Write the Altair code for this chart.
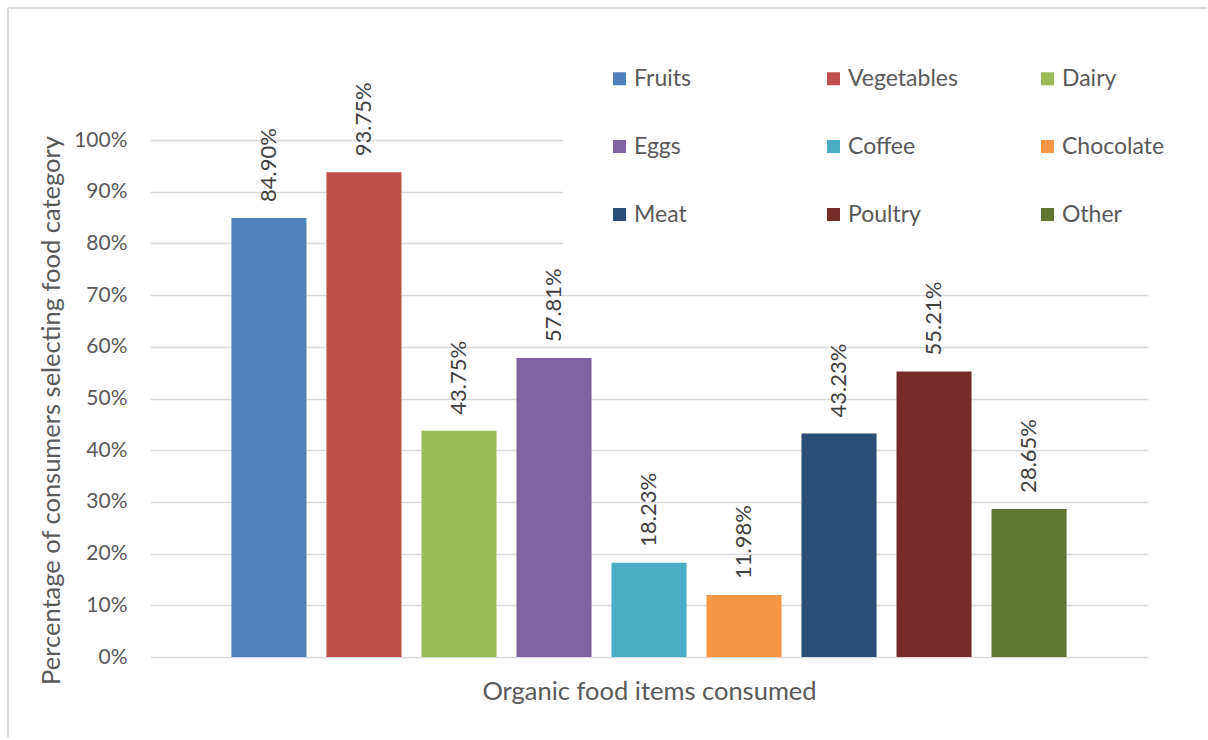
import altair as alt
import pandas as pd

categories = ["Fruits", "Vegetables", "Dairy", "Eggs", "Coffee", "Chocolate", "Meat", "Poultry", "Other"]
values = [84.90, 93.75, 43.75, 57.81, 18.23, 11.98, 43.23, 55.21, 28.65]
colors = ["#4F81BD", "#C0504D", "#9BBB59", "#8064A2", "#4BACC6", "#F79646", "#2C4D75", "#772C2A", "#5F7530"]
y_ticks = [0, 0.1, 0.2, 0.3, 0.4, 0.5, 0.6, 0.7, 0.8, 0.9, 1.0]

df = pd.DataFrame({"item": categories, "pct": [v / 100 for v in values]})

FONT = "Lato"
GREY = "#595959"

x = alt.X(
    "item:N",
    sort=categories,
    scale=alt.Scale(domain=categories, paddingInner=0.21, paddingOuter=0.857),
    axis=alt.Axis(labels=False, ticks=False, domain=False, grid=False,
                  title="Organic food items consumed", titleFontSize=25.5,
                  titleColor=GREY, titleFontWeight="normal", titlePadding=22,
                  titleFont=FONT),
)
y = alt.Y(
    "pct:Q",
    scale=alt.Scale(domain=[0, 1], nice=False),
    axis=alt.Axis(values=y_ticks, format=".0%", ticks=False, domain=False,
                  labelFontSize=21, labelColor=GREY, labelPadding=23, labelFont=FONT,
                  gridColor="#d9d9d9", gridWidth=1.5,
                  title="Percentage of consumers selecting food category",
                  titleFontSize=25.5, titleColor=GREY, titleFontWeight="normal",
                  titlePadding=9, titleFont=FONT, titleY=270),
)

# white plate behind the legend (hides the gridlines there, as in the original)
legend_plate = alt.Chart(pd.DataFrame({"k": [0]})).mark_rect(color="white").encode(
    x=alt.value(413), x2=alt.value(1002), y=alt.value(-112), y2=alt.value(116)
)

bars = alt.Chart(df).mark_bar().encode(
    x=x,
    y=y,
    color=alt.Color(
        "item:N",
        sort=categories,
        scale=alt.Scale(domain=categories, range=colors),
        legend=alt.Legend(
            title=None, orient="none", legendX=448, legendY=-83,
            direction="horizontal",
            columns=3, gridAlign="all", symbolType="square", symbolSize=169,
            symbolStrokeWidth=0, labelFontSize=23, labelColor=GREY, labelFont=FONT,
            labelOffset=3, rowPadding=44, columnPadding=78, padding=10,
            fillColor="white", strokeColor="white",
        ),
    ),
)

labels = alt.Chart(df).mark_text(
    angle=270, align="left", baseline="middle", dx=16,
    fontSize=22, color="#404040", font=FONT,
).encode(
    x=alt.X("item:N", sort=categories),
    y="pct:Q",
    text=alt.Text("pct:Q", format=".2%"),
)

border_top = alt.Chart(pd.DataFrame({"k": [0]})).mark_rule(color="#d9d9d9", strokeWidth=2).encode(
    x=alt.value(-142), x2=alt.value(1057), y=alt.value(-132)
)
border_left = alt.Chart(pd.DataFrame({"k": [0]})).mark_rule(color="#d9d9d9", strokeWidth=2).encode(
    x=alt.value(-142), y=alt.value(-132), y2=alt.value(598)
)

chart = alt.layer(legend_plate, bars, labels, border_top, border_left).properties(
    width=998, height=517,
    padding={"left": 7, "top": 7, "right": 0, "bottom": 0},
    background="white",
).configure_view(stroke=None)

chart.save("out.html", embed_options={"renderer": "svg", "actions": False})
